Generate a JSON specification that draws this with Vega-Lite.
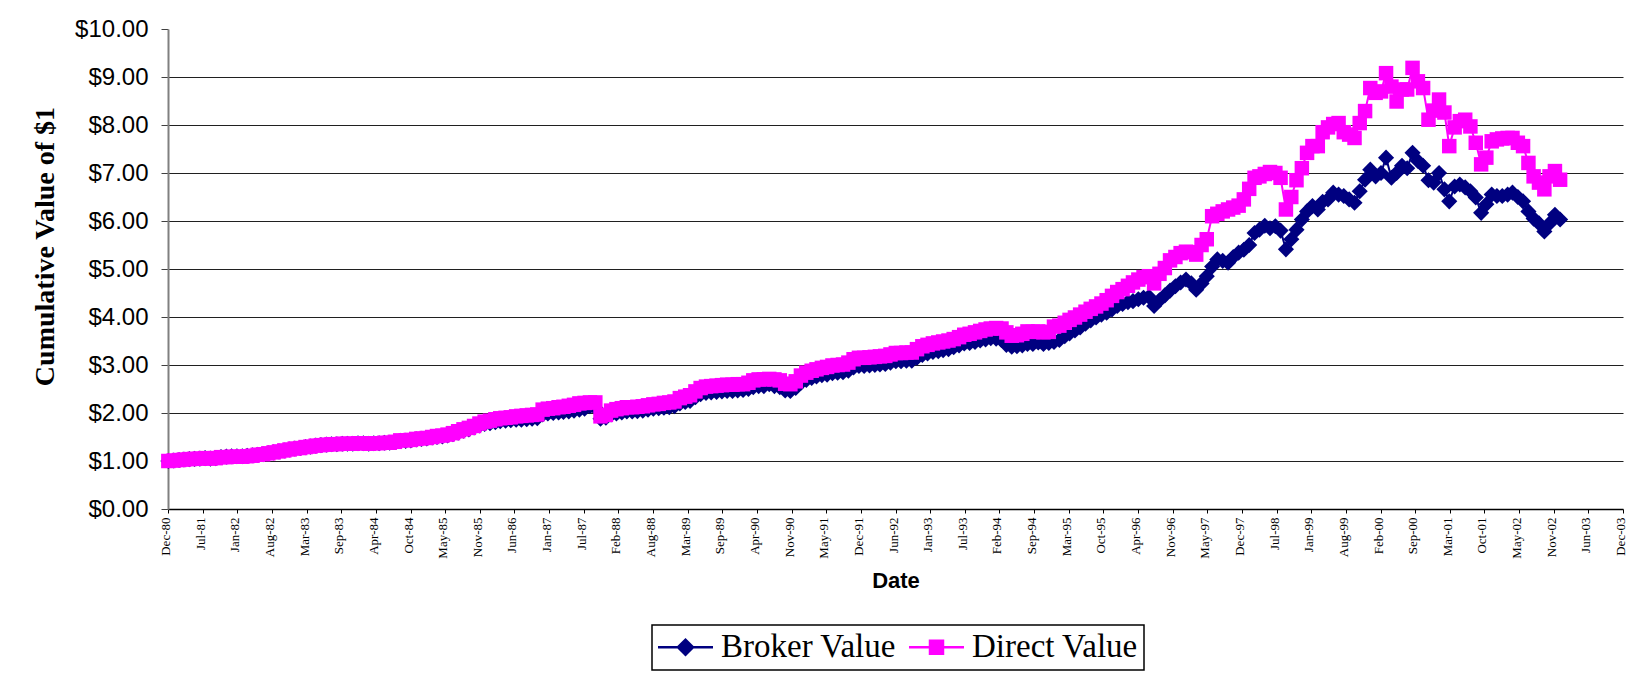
{
"$schema": "https://vega.github.io/schema/vega-lite/v6.json",
"width": 1455, "height": 480,
"autosize": "none",
"padding": {"left": 168, "top": 29, "right": 4, "bottom": 174},
"background": "white",
"config": {"view": {"stroke": null}, "font": "Liberation Sans"},
"data": {"values": [
{"d":"1980-12-28","Broker Value":1.00,"Direct Value":1.00},
{"d":"1981-01-28","Broker Value":1.01,"Direct Value":1.01},
{"d":"1981-02-28","Broker Value":1.02,"Direct Value":1.02},
{"d":"1981-03-28","Broker Value":1.03,"Direct Value":1.03},
{"d":"1981-04-28","Broker Value":1.04,"Direct Value":1.04},
{"d":"1981-05-28","Broker Value":1.045,"Direct Value":1.045},
{"d":"1981-06-28","Broker Value":1.05,"Direct Value":1.05},
{"d":"1981-07-28","Broker Value":1.06,"Direct Value":1.06},
{"d":"1981-08-28","Broker Value":1.05,"Direct Value":1.05},
{"d":"1981-09-28","Broker Value":1.06,"Direct Value":1.06},
{"d":"1981-10-28","Broker Value":1.08,"Direct Value":1.08},
{"d":"1981-11-28","Broker Value":1.09,"Direct Value":1.08},
{"d":"1981-12-28","Broker Value":1.10,"Direct Value":1.09},
{"d":"1982-01-28","Broker Value":1.10,"Direct Value":1.09},
{"d":"1982-02-28","Broker Value":1.10,"Direct Value":1.09},
{"d":"1982-03-28","Broker Value":1.11,"Direct Value":1.10},
{"d":"1982-04-28","Broker Value":1.12,"Direct Value":1.11},
{"d":"1982-05-28","Broker Value":1.13,"Direct Value":1.13},
{"d":"1982-06-28","Broker Value":1.14,"Direct Value":1.14},
{"d":"1982-07-28","Broker Value":1.16,"Direct Value":1.16},
{"d":"1982-08-28","Broker Value":1.18,"Direct Value":1.18},
{"d":"1982-09-28","Broker Value":1.20,"Direct Value":1.20},
{"d":"1982-10-28","Broker Value":1.22,"Direct Value":1.22},
{"d":"1982-11-28","Broker Value":1.24,"Direct Value":1.24},
{"d":"1982-12-28","Broker Value":1.26,"Direct Value":1.26},
{"d":"1983-01-28","Broker Value":1.27,"Direct Value":1.27},
{"d":"1983-02-28","Broker Value":1.29,"Direct Value":1.29},
{"d":"1983-03-28","Broker Value":1.30,"Direct Value":1.30},
{"d":"1983-04-28","Broker Value":1.32,"Direct Value":1.32},
{"d":"1983-05-28","Broker Value":1.33,"Direct Value":1.33},
{"d":"1983-06-28","Broker Value":1.34,"Direct Value":1.34},
{"d":"1983-07-28","Broker Value":1.35,"Direct Value":1.35},
{"d":"1983-08-28","Broker Value":1.35,"Direct Value":1.35},
{"d":"1983-09-28","Broker Value":1.36,"Direct Value":1.36},
{"d":"1983-10-28","Broker Value":1.36,"Direct Value":1.36},
{"d":"1983-11-28","Broker Value":1.36,"Direct Value":1.36},
{"d":"1983-12-28","Broker Value":1.37,"Direct Value":1.37},
{"d":"1984-01-28","Broker Value":1.37,"Direct Value":1.37},
{"d":"1984-02-28","Broker Value":1.36,"Direct Value":1.36},
{"d":"1984-03-28","Broker Value":1.37,"Direct Value":1.37},
{"d":"1984-04-28","Broker Value":1.37,"Direct Value":1.37},
{"d":"1984-05-28","Broker Value":1.38,"Direct Value":1.38},
{"d":"1984-06-28","Broker Value":1.38,"Direct Value":1.38},
{"d":"1984-07-28","Broker Value":1.40,"Direct Value":1.40},
{"d":"1984-08-28","Broker Value":1.42,"Direct Value":1.43},
{"d":"1984-09-28","Broker Value":1.42,"Direct Value":1.43},
{"d":"1984-10-28","Broker Value":1.43,"Direct Value":1.44},
{"d":"1984-11-28","Broker Value":1.45,"Direct Value":1.46},
{"d":"1984-12-28","Broker Value":1.46,"Direct Value":1.47},
{"d":"1985-01-28","Broker Value":1.47,"Direct Value":1.48},
{"d":"1985-02-28","Broker Value":1.49,"Direct Value":1.50},
{"d":"1985-03-28","Broker Value":1.50,"Direct Value":1.52},
{"d":"1985-04-28","Broker Value":1.51,"Direct Value":1.53},
{"d":"1985-05-28","Broker Value":1.53,"Direct Value":1.55},
{"d":"1985-06-28","Broker Value":1.56,"Direct Value":1.58},
{"d":"1985-07-28","Broker Value":1.59,"Direct Value":1.62},
{"d":"1985-08-28","Broker Value":1.63,"Direct Value":1.66},
{"d":"1985-09-28","Broker Value":1.66,"Direct Value":1.69},
{"d":"1985-10-28","Broker Value":1.70,"Direct Value":1.73},
{"d":"1985-11-28","Broker Value":1.74,"Direct Value":1.78},
{"d":"1985-12-28","Broker Value":1.77,"Direct Value":1.82},
{"d":"1986-01-28","Broker Value":1.79,"Direct Value":1.84},
{"d":"1986-02-28","Broker Value":1.81,"Direct Value":1.87},
{"d":"1986-03-28","Broker Value":1.83,"Direct Value":1.89},
{"d":"1986-04-28","Broker Value":1.84,"Direct Value":1.90},
{"d":"1986-05-28","Broker Value":1.85,"Direct Value":1.91},
{"d":"1986-06-28","Broker Value":1.86,"Direct Value":1.93},
{"d":"1986-07-28","Broker Value":1.86,"Direct Value":1.94},
{"d":"1986-08-28","Broker Value":1.87,"Direct Value":1.95},
{"d":"1986-09-28","Broker Value":1.88,"Direct Value":1.96},
{"d":"1986-10-28","Broker Value":1.89,"Direct Value":1.97},
{"d":"1986-11-28","Broker Value":1.97,"Direct Value":2.07},
{"d":"1986-12-28","Broker Value":1.99,"Direct Value":2.09},
{"d":"1987-01-28","Broker Value":2.00,"Direct Value":2.10},
{"d":"1987-02-28","Broker Value":2.01,"Direct Value":2.12},
{"d":"1987-03-28","Broker Value":2.02,"Direct Value":2.13},
{"d":"1987-04-28","Broker Value":2.03,"Direct Value":2.15},
{"d":"1987-05-28","Broker Value":2.05,"Direct Value":2.17},
{"d":"1987-06-28","Broker Value":2.07,"Direct Value":2.20},
{"d":"1987-07-28","Broker Value":2.09,"Direct Value":2.21},
{"d":"1987-08-28","Broker Value":2.14,"Direct Value":2.22},
{"d":"1987-09-28","Broker Value":2.11,"Direct Value":2.22},
{"d":"1987-10-28","Broker Value":1.88,"Direct Value":1.93},
{"d":"1987-11-28","Broker Value":1.90,"Direct Value":1.96},
{"d":"1987-12-28","Broker Value":1.97,"Direct Value":2.05},
{"d":"1988-01-28","Broker Value":1.99,"Direct Value":2.08},
{"d":"1988-02-28","Broker Value":2.01,"Direct Value":2.10},
{"d":"1988-03-28","Broker Value":2.03,"Direct Value":2.12},
{"d":"1988-04-28","Broker Value":2.03,"Direct Value":2.12},
{"d":"1988-05-28","Broker Value":2.04,"Direct Value":2.13},
{"d":"1988-06-28","Broker Value":2.05,"Direct Value":2.14},
{"d":"1988-07-28","Broker Value":2.07,"Direct Value":2.16},
{"d":"1988-08-28","Broker Value":2.09,"Direct Value":2.18},
{"d":"1988-09-28","Broker Value":2.10,"Direct Value":2.19},
{"d":"1988-10-28","Broker Value":2.11,"Direct Value":2.21},
{"d":"1988-11-28","Broker Value":2.12,"Direct Value":2.22},
{"d":"1988-12-28","Broker Value":2.14,"Direct Value":2.24},
{"d":"1989-01-28","Broker Value":2.20,"Direct Value":2.31},
{"d":"1989-02-28","Broker Value":2.23,"Direct Value":2.34},
{"d":"1989-03-28","Broker Value":2.25,"Direct Value":2.37},
{"d":"1989-04-28","Broker Value":2.33,"Direct Value":2.45},
{"d":"1989-05-28","Broker Value":2.39,"Direct Value":2.52},
{"d":"1989-06-28","Broker Value":2.42,"Direct Value":2.55},
{"d":"1989-07-28","Broker Value":2.43,"Direct Value":2.56},
{"d":"1989-08-28","Broker Value":2.44,"Direct Value":2.57},
{"d":"1989-09-28","Broker Value":2.45,"Direct Value":2.58},
{"d":"1989-10-28","Broker Value":2.46,"Direct Value":2.59},
{"d":"1989-11-28","Broker Value":2.46,"Direct Value":2.59},
{"d":"1989-12-28","Broker Value":2.47,"Direct Value":2.60},
{"d":"1990-01-28","Broker Value":2.48,"Direct Value":2.60},
{"d":"1990-02-28","Broker Value":2.50,"Direct Value":2.63},
{"d":"1990-03-28","Broker Value":2.54,"Direct Value":2.68},
{"d":"1990-04-28","Broker Value":2.56,"Direct Value":2.70},
{"d":"1990-05-28","Broker Value":2.56,"Direct Value":2.70},
{"d":"1990-06-28","Broker Value":2.60,"Direct Value":2.71},
{"d":"1990-07-28","Broker Value":2.56,"Direct Value":2.70},
{"d":"1990-08-28","Broker Value":2.54,"Direct Value":2.68},
{"d":"1990-09-28","Broker Value":2.47,"Direct Value":2.61},
{"d":"1990-10-28","Broker Value":2.46,"Direct Value":2.60},
{"d":"1990-11-28","Broker Value":2.52,"Direct Value":2.66},
{"d":"1990-12-28","Broker Value":2.63,"Direct Value":2.78},
{"d":"1991-01-28","Broker Value":2.69,"Direct Value":2.84},
{"d":"1991-02-28","Broker Value":2.73,"Direct Value":2.88},
{"d":"1991-03-28","Broker Value":2.76,"Direct Value":2.91},
{"d":"1991-04-28","Broker Value":2.79,"Direct Value":2.94},
{"d":"1991-05-28","Broker Value":2.80,"Direct Value":2.96},
{"d":"1991-06-28","Broker Value":2.83,"Direct Value":2.99},
{"d":"1991-07-28","Broker Value":2.84,"Direct Value":3.00},
{"d":"1991-08-28","Broker Value":2.85,"Direct Value":3.01},
{"d":"1991-09-28","Broker Value":2.88,"Direct Value":3.05},
{"d":"1991-10-28","Broker Value":2.95,"Direct Value":3.12},
{"d":"1991-11-28","Broker Value":2.98,"Direct Value":3.15},
{"d":"1991-12-28","Broker Value":2.98,"Direct Value":3.15},
{"d":"1992-01-28","Broker Value":2.99,"Direct Value":3.16},
{"d":"1992-02-28","Broker Value":3.00,"Direct Value":3.17},
{"d":"1992-03-28","Broker Value":3.01,"Direct Value":3.18},
{"d":"1992-04-28","Broker Value":3.02,"Direct Value":3.19},
{"d":"1992-05-28","Broker Value":3.05,"Direct Value":3.22},
{"d":"1992-06-28","Broker Value":3.08,"Direct Value":3.25},
{"d":"1992-07-28","Broker Value":3.08,"Direct Value":3.25},
{"d":"1992-08-28","Broker Value":3.09,"Direct Value":3.26},
{"d":"1992-09-28","Broker Value":3.09,"Direct Value":3.26},
{"d":"1992-10-28","Broker Value":3.15,"Direct Value":3.33},
{"d":"1992-11-28","Broker Value":3.21,"Direct Value":3.39},
{"d":"1992-12-28","Broker Value":3.24,"Direct Value":3.42},
{"d":"1993-01-28","Broker Value":3.27,"Direct Value":3.45},
{"d":"1993-02-28","Broker Value":3.29,"Direct Value":3.47},
{"d":"1993-03-28","Broker Value":3.31,"Direct Value":3.49},
{"d":"1993-04-28","Broker Value":3.33,"Direct Value":3.51},
{"d":"1993-05-28","Broker Value":3.37,"Direct Value":3.54},
{"d":"1993-06-28","Broker Value":3.41,"Direct Value":3.58},
{"d":"1993-07-28","Broker Value":3.45,"Direct Value":3.63},
{"d":"1993-08-28","Broker Value":3.46,"Direct Value":3.65},
{"d":"1993-09-28","Broker Value":3.48,"Direct Value":3.68},
{"d":"1993-10-28","Broker Value":3.51,"Direct Value":3.71},
{"d":"1993-11-28","Broker Value":3.53,"Direct Value":3.74},
{"d":"1993-12-28","Broker Value":3.56,"Direct Value":3.76},
{"d":"1994-01-28","Broker Value":3.55,"Direct Value":3.77},
{"d":"1994-02-28","Broker Value":3.52,"Direct Value":3.76},
{"d":"1994-03-28","Broker Value":3.42,"Direct Value":3.68},
{"d":"1994-04-28","Broker Value":3.38,"Direct Value":3.61},
{"d":"1994-05-28","Broker Value":3.39,"Direct Value":3.62},
{"d":"1994-06-28","Broker Value":3.41,"Direct Value":3.65},
{"d":"1994-07-28","Broker Value":3.44,"Direct Value":3.70},
{"d":"1994-08-28","Broker Value":3.44,"Direct Value":3.69},
{"d":"1994-09-28","Broker Value":3.47,"Direct Value":3.70},
{"d":"1994-10-28","Broker Value":3.44,"Direct Value":3.68},
{"d":"1994-11-28","Broker Value":3.46,"Direct Value":3.69},
{"d":"1994-12-28","Broker Value":3.48,"Direct Value":3.80},
{"d":"1995-01-28","Broker Value":3.52,"Direct Value":3.82},
{"d":"1995-02-28","Broker Value":3.60,"Direct Value":3.88},
{"d":"1995-03-28","Broker Value":3.66,"Direct Value":3.94},
{"d":"1995-04-28","Broker Value":3.72,"Direct Value":3.99},
{"d":"1995-05-28","Broker Value":3.78,"Direct Value":4.05},
{"d":"1995-06-28","Broker Value":3.86,"Direct Value":4.11},
{"d":"1995-07-28","Broker Value":3.93,"Direct Value":4.17},
{"d":"1995-08-28","Broker Value":3.99,"Direct Value":4.22},
{"d":"1995-09-28","Broker Value":4.05,"Direct Value":4.28},
{"d":"1995-10-28","Broker Value":4.09,"Direct Value":4.35},
{"d":"1995-11-28","Broker Value":4.16,"Direct Value":4.44},
{"d":"1995-12-28","Broker Value":4.23,"Direct Value":4.52},
{"d":"1996-01-28","Broker Value":4.27,"Direct Value":4.58},
{"d":"1996-02-28","Broker Value":4.31,"Direct Value":4.65},
{"d":"1996-03-28","Broker Value":4.33,"Direct Value":4.72},
{"d":"1996-04-28","Broker Value":4.37,"Direct Value":4.78},
{"d":"1996-05-28","Broker Value":4.40,"Direct Value":4.83},
{"d":"1996-06-28","Broker Value":4.42,"Direct Value":4.85},
{"d":"1996-07-28","Broker Value":4.23,"Direct Value":4.70},
{"d":"1996-08-28","Broker Value":4.35,"Direct Value":4.90},
{"d":"1996-09-28","Broker Value":4.45,"Direct Value":5.02},
{"d":"1996-10-28","Broker Value":4.55,"Direct Value":5.18},
{"d":"1996-11-28","Broker Value":4.64,"Direct Value":5.25},
{"d":"1996-12-28","Broker Value":4.72,"Direct Value":5.33},
{"d":"1997-01-28","Broker Value":4.78,"Direct Value":5.36},
{"d":"1997-02-28","Broker Value":4.70,"Direct Value":5.35},
{"d":"1997-03-28","Broker Value":4.57,"Direct Value":5.30},
{"d":"1997-04-28","Broker Value":4.70,"Direct Value":5.50},
{"d":"1997-05-28","Broker Value":4.85,"Direct Value":5.62},
{"d":"1997-06-28","Broker Value":5.05,"Direct Value":6.10},
{"d":"1997-07-28","Broker Value":5.20,"Direct Value":6.15},
{"d":"1997-08-28","Broker Value":5.17,"Direct Value":6.20},
{"d":"1997-09-28","Broker Value":5.13,"Direct Value":6.24},
{"d":"1997-10-28","Broker Value":5.25,"Direct Value":6.28},
{"d":"1997-11-28","Broker Value":5.34,"Direct Value":6.32},
{"d":"1997-12-28","Broker Value":5.40,"Direct Value":6.45},
{"d":"1998-01-28","Broker Value":5.50,"Direct Value":6.67},
{"d":"1998-02-28","Broker Value":5.75,"Direct Value":6.90},
{"d":"1998-03-28","Broker Value":5.82,"Direct Value":6.93},
{"d":"1998-04-28","Broker Value":5.90,"Direct Value":6.98},
{"d":"1998-05-28","Broker Value":5.85,"Direct Value":7.02},
{"d":"1998-06-28","Broker Value":5.89,"Direct Value":7.00},
{"d":"1998-07-28","Broker Value":5.80,"Direct Value":6.90},
{"d":"1998-08-28","Broker Value":5.41,"Direct Value":6.24},
{"d":"1998-09-28","Broker Value":5.62,"Direct Value":6.50},
{"d":"1998-10-28","Broker Value":5.82,"Direct Value":6.85},
{"d":"1998-11-28","Broker Value":6.03,"Direct Value":7.10},
{"d":"1998-12-28","Broker Value":6.20,"Direct Value":7.42},
{"d":"1999-01-28","Broker Value":6.31,"Direct Value":7.56},
{"d":"1999-02-28","Broker Value":6.24,"Direct Value":7.56},
{"d":"1999-03-28","Broker Value":6.40,"Direct Value":7.85},
{"d":"1999-04-28","Broker Value":6.45,"Direct Value":7.95},
{"d":"1999-05-28","Broker Value":6.59,"Direct Value":8.02},
{"d":"1999-06-28","Broker Value":6.55,"Direct Value":8.04},
{"d":"1999-07-28","Broker Value":6.52,"Direct Value":7.85},
{"d":"1999-08-28","Broker Value":6.45,"Direct Value":7.80},
{"d":"1999-09-28","Broker Value":6.38,"Direct Value":7.73},
{"d":"1999-10-28","Broker Value":6.62,"Direct Value":8.04},
{"d":"1999-11-28","Broker Value":6.86,"Direct Value":8.29},
{"d":"1999-12-28","Broker Value":7.07,"Direct Value":8.77},
{"d":"2000-01-28","Broker Value":6.93,"Direct Value":8.67},
{"d":"2000-02-28","Broker Value":7.00,"Direct Value":8.70},
{"d":"2000-03-28","Broker Value":7.32,"Direct Value":9.08},
{"d":"2000-04-28","Broker Value":6.90,"Direct Value":8.80},
{"d":"2000-05-28","Broker Value":7.00,"Direct Value":8.49},
{"d":"2000-06-28","Broker Value":7.15,"Direct Value":8.74},
{"d":"2000-07-28","Broker Value":7.10,"Direct Value":8.74},
{"d":"2000-08-28","Broker Value":7.42,"Direct Value":9.19},
{"d":"2000-09-28","Broker Value":7.25,"Direct Value":8.91},
{"d":"2000-10-28","Broker Value":7.15,"Direct Value":8.77},
{"d":"2000-11-28","Broker Value":6.85,"Direct Value":8.11},
{"d":"2000-12-28","Broker Value":6.80,"Direct Value":8.30},
{"d":"2001-01-28","Broker Value":7.00,"Direct Value":8.53},
{"d":"2001-02-28","Broker Value":6.66,"Direct Value":8.26},
{"d":"2001-03-28","Broker Value":6.41,"Direct Value":7.56},
{"d":"2001-04-28","Broker Value":6.72,"Direct Value":7.95},
{"d":"2001-05-28","Broker Value":6.76,"Direct Value":8.08},
{"d":"2001-06-28","Broker Value":6.70,"Direct Value":8.11},
{"d":"2001-07-28","Broker Value":6.62,"Direct Value":7.97},
{"d":"2001-08-28","Broker Value":6.49,"Direct Value":7.63},
{"d":"2001-09-28","Broker Value":6.17,"Direct Value":7.18},
{"d":"2001-10-28","Broker Value":6.35,"Direct Value":7.32},
{"d":"2001-11-28","Broker Value":6.55,"Direct Value":7.66},
{"d":"2001-12-28","Broker Value":6.52,"Direct Value":7.70},
{"d":"2002-01-28","Broker Value":6.52,"Direct Value":7.72},
{"d":"2002-02-28","Broker Value":6.55,"Direct Value":7.73},
{"d":"2002-03-28","Broker Value":6.59,"Direct Value":7.73},
{"d":"2002-04-28","Broker Value":6.50,"Direct Value":7.63},
{"d":"2002-05-28","Broker Value":6.41,"Direct Value":7.56},
{"d":"2002-06-28","Broker Value":6.20,"Direct Value":7.21},
{"d":"2002-07-28","Broker Value":6.05,"Direct Value":6.93},
{"d":"2002-08-28","Broker Value":5.95,"Direct Value":6.80},
{"d":"2002-09-28","Broker Value":5.78,"Direct Value":6.66},
{"d":"2002-10-28","Broker Value":5.95,"Direct Value":6.93},
{"d":"2002-11-28","Broker Value":6.13,"Direct Value":7.04},
{"d":"2002-12-28","Broker Value":6.03,"Direct Value":6.86}
]},
"transform": [{"fold": ["Broker Value", "Direct Value"], "as": ["series", "value"]}],
"encoding": {
  "x": {"field": "d", "type": "temporal",
    "scale": {"type": "utc", "domain": [346636800000, 1072396800000]},
    "axis": {"values": [346636800000,363916800000,381196800000,398476800000,415756800000,433036800000,450316800000,467596800000,484876800000,502156800000,519436800000,536716800000,553996800000,571276800000,588556800000,605836800000,623116800000,640396800000,657676800000,674956800000,692236800000,709516800000,726796800000,744076800000,761356800000,778636800000,795916800000,813196800000,830476800000,847756800000,865036800000,882316800000,899596800000,916876800000,934156800000,951436800000,968716800000,985996800000,1003276800000,1020556800000,1037836800000,1055116800000,1072396800000],
      "format": "%b-%y", "labelAngle": 270, "labelAlign": "right", "labelBaseline": "middle",
      "labelFont": "Liberation Serif", "labelFontSize": 13, "labelColor": "#000",
      "labelOverlap": false, "labelFlush": false, "labelBound": false, "labelPadding": 4, "labelOffset": -2.5,
      "tickSize": 4, "tickColor": "#000", "tickWidth": 1,
      "domainColor": "#000", "domainWidth": 1.5, "grid": false,
      "title": "Date", "titleFont": "Liberation Sans", "titleFontWeight": "bold", "titleFontSize": 22, "titleColor": "#000", "titlePadding": 12}},
  "y": {"field": "value", "type": "quantitative",
    "scale": {"domain": [0, 10], "nice": false},
    "axis": {"values": [0,1,2,3,4,5,6,7,8,9,10], "format": "$.2f",
      "labelFont": "Liberation Sans", "labelFontSize": 24, "labelColor": "#000", "labelPadding": 13,
      "tickSize": 7, "tickColor": "#404040", "tickWidth": 1,
      "domainColor": "#808080", "domainWidth": 2,
      "grid": true, "gridColor": "#202020", "gridWidth": 1,
      "gridOpacity": {"condition": {"test": "datum.value === 10 || datum.value === 0", "value": 0}, "value": 1},
      "title": "Cumulative Value of $1", "titleFont": "Liberation Serif", "titleFontWeight": "bold", "titleFontSize": 28, "titleColor": "#000",
      "titleAngle": 270, "titleX": -123, "titleY": 217, "titleAlign": "center", "titleBaseline": "middle"}},
  "color": {"field": "series", "type": "nominal",
    "scale": {"domain": ["Broker Value", "Direct Value"], "range": ["#000080", "#FF00FF"]},
    "legend": {"orient": "none", "legendX": 484, "legendY": 596, "direction": "horizontal", "title": null,
      "labelFont": "Liberation Serif", "labelFontSize": 33, "labelColor": "#000", "labelLimit": 400, "labelOffset": 19,
      "symbolSize": 900, "symbolOffset": 11.5, "columnPadding": 7, "padding": 5.5, "strokeColor": "#000",
      "encode": {
        "legend": {"update": {"stroke": {"value": "#000"}, "strokeWidth": {"value": 1.5}}},
        "symbols": {"update": {
        "shape": {"signal": "datum.value === 'Broker Value' ? 'M-1.833,0L1.833,0M-0.5,0L0,-0.5L0.5,0L0,0.5Z' : 'M-1.833,0L1.833,0M-0.433,-0.433L0.433,-0.433L0.433,0.433L-0.433,0.433Z'"},
        "size": {"value": 900},
        "fill": {"signal": "datum.value === 'Broker Value' ? '#000080' : '#FF00FF'"},
        "stroke": {"signal": "datum.value === 'Broker Value' ? '#000080' : '#FF00FF'"},
        "fillOpacity": {"value": 1}, "strokeOpacity": {"value": 1}, "opacity": {"value": 1},
        "strokeWidth": {"value": 2.5}}}}}}
},
"layer": [
  {"transform": [{"filter": "datum.series === 'Broker Value'"}], "mark": {"type": "line", "strokeWidth": 2}},
  {"transform": [{"filter": "datum.series === 'Broker Value'"}], "mark": {"type": "point", "shape": "diamond", "filled": true, "size": 260, "opacity": 1}},
  {"transform": [{"filter": "datum.series === 'Direct Value'"}], "mark": {"type": "line", "strokeWidth": 2}},
  {"transform": [{"filter": "datum.series === 'Direct Value'"}], "mark": {"type": "point", "shape": "square", "filled": true, "size": 210, "opacity": 1}}
]
}
